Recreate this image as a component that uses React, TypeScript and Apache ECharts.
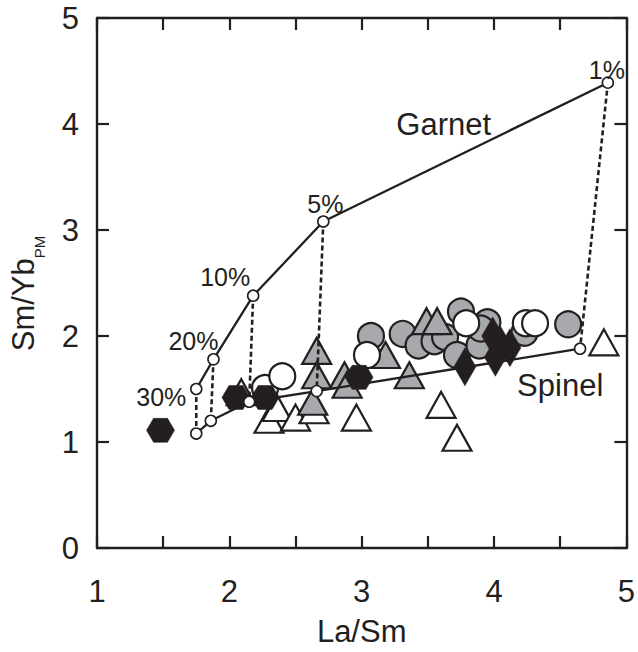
import React, { useEffect, useRef } from 'react';
import * as echarts from 'echarts';

// Melting curves (La/Sm vs Sm/Yb_PM), degrees of melting
const meltLabels = ['1%', '5%', '10%', '20%', '30%'];
const garnetX = [4.86, 2.71, 2.18, 1.88, 1.75];
const garnetY = [4.39, 3.08, 2.38, 1.78, 1.50];
const spinelX = [4.65, 2.66, 2.15, 1.86, 1.75];
const spinelY = [1.88, 1.48, 1.38, 1.20, 1.08];

// Curve names
const curveNames = ['Garnet', 'Spinel'];
const curveNameX = [3.62, 4.50];
const curveNameY = [4.00, 1.53];

// Sample groups
const openTriX = [2.09, 2.30, 2.36, 2.50, 2.64, 2.96, 3.60, 3.72, 4.83];
const openTriY = [1.47, 1.21, 1.32, 1.23, 1.30, 1.23, 1.35, 1.04, 1.94];

const grayCircX = [3.07, 3.31, 3.43, 3.55, 3.63, 3.75, 3.72, 3.89, 3.95, 4.23, 4.56, 3.90];
const grayCircY = [2.00, 2.02, 1.91, 1.95, 1.99, 2.23, 1.82, 1.91, 2.13, 2.03, 2.11, 2.07];

const grayTriX = [2.66, 2.66, 2.63, 2.87, 2.89, 3.18, 3.36, 3.49, 3.57];
const grayTriY = [1.86, 1.63, 1.38, 1.63, 1.54, 1.82, 1.63, 2.14, 2.14];

const openCircX = [2.27, 2.40, 3.04, 3.79, 4.24, 4.31];
const openCircY = [1.51, 1.62, 1.82, 2.12, 2.12, 2.12];

const hexX = [1.48, 2.05, 2.27, 2.98];
const hexY = [1.11, 1.42, 1.42, 1.61];

const diaX = [3.78, 3.99, 4.01, 4.05, 4.12];
const diaY = [1.71, 2.00, 1.80, 1.91, 1.89];

const INK = '#231f20';
const GRAY = '#a7a9ac';
const FONT = '"Liberation Sans", Arial, Helvetica, sans-serif';
const HEX = 'path://M0,0.866 L0.5,0 L1.5,0 L2,0.866 L1.5,1.732 L0.5,1.732 Z';

const zip = (xs: number[], ys: number[]) => xs.map((x, i) => [x, ys[i]]);

export default function App() {
  const ref = useRef<HTMLDivElement>(null);
  useEffect(() => {
    if (!ref.current) return;
    const chart = echarts.init(ref.current, null, { renderer: 'svg' });

    const pctOffsets = [[-1, -13], [2, -18], [-28, -19], [-20, -18], [-35, 8]];

    const scatter = (name: string, xs: number[], ys: number[], symbol: string, size: any, fill: string, z: number, bw = 2.2) => ({
      name,
      type: 'scatter',
      symbol,
      symbolSize: size,
      z,
      data: zip(xs, ys),
      itemStyle: { color: fill, borderColor: INK, borderWidth: bw, opacity: 1 },
    });

    const axisLine = { show: true, onZero: false, lineStyle: { color: INK, width: 2.4 } };
    const axisTick = { show: true, inside: true, length: 12, lineStyle: { color: INK, width: 2.2 } };

    const ties = garnetX.map((gx, i) => ({
      type: 'line',
      z: 3,
      symbol: 'none',
      silent: true,
      data: [[gx, garnetY[i]], [spinelX[i], spinelY[i]]],
      lineStyle: { color: INK, width: 2.6, type: [5, 3] },
    }));

    const curve = (xs: number[], ys: number[]) => ({
      type: 'line',
      z: 4,
      symbol: 'circle',
      symbolSize: 11,
      showAllSymbol: true,
      data: zip(xs, ys),
      lineStyle: { color: INK, width: 2.3 },
      itemStyle: { color: '#ffffff', borderColor: INK, borderWidth: 1.6 },
    });

    const textLabel = (text: string, size: number, offset?: number[]) => ({
      show: true, position: 'inside', offset: offset || [0, 0],
      formatter: text, color: INK, fontSize: size, fontFamily: FONT,
      textBorderWidth: 0, textBorderColor: 'transparent', opacity: 1,
    });

    const option: any = {
      animation: false,
      backgroundColor: '#ffffff',
      grid: { left: 95, right: 8, top: 18, bottom: 97, containLabel: false },
      xAxis: [
        {
          type: 'value', min: 1, max: 5, interval: 0.5, position: 'bottom',
          axisLine, axisTick, splitLine: { show: false },
          axisLabel: {
            color: INK, fontSize: 31, fontFamily: FONT, margin: 28,
            formatter: (v: number) => (Number.isInteger(v) ? String(v) : ''),
          },
          name: 'La/Sm', nameLocation: 'middle', nameGap: 68,
          nameTextStyle: { color: INK, fontSize: 31, fontFamily: FONT },
        },
        {
          type: 'value', min: 1, max: 5, interval: 0.5, position: 'top',
          axisLine, axisTick, splitLine: { show: false }, axisLabel: { show: false },
        },
      ],
      yAxis: [
        {
          type: 'value', min: 0, max: 5, interval: 1, position: 'left',
          axisLine, axisTick, splitLine: { show: false },
          axisLabel: { color: INK, fontSize: 31, fontFamily: FONT, margin: 18 },
          name: '{a|Sm/Yb}{b|PM}', nameLocation: 'middle', nameGap: 50,
          nameTextStyle: {
            color: INK, fontFamily: FONT, padding: [0, 21, 0, 0],
            rich: {
              a: { fontSize: 31, fontFamily: FONT, color: INK, padding: [0, 0, 8, 0] },
              b: { fontSize: 15, fontFamily: FONT, color: INK, verticalAlign: 'bottom' },
            },
          },
        },
        {
          type: 'value', min: 0, max: 5, interval: 1, position: 'right',
          axisLine, axisTick, splitLine: { show: false }, axisLabel: { show: false },
        },
      ],
      series: [
        scatter('open triangles', openTriX, openTriY, 'triangle', [29, 26], '#ffffff', 2),
        scatter('gray circles', grayCircX, grayCircY, 'circle', 26, GRAY, 2),
        scatter('gray triangles', grayTriX, grayTriY, 'triangle', [29, 26], GRAY, 2),
        scatter('open circles', openCircX, openCircY, 'circle', 26, '#ffffff', 2),
        scatter('hexagons', hexX, hexY, HEX, [28, 24], INK, 2, 0.5),
        scatter('diamonds', diaX, diaY, 'diamond', [22, 38], INK, 2, 0.5),
        ...ties,
        curve(garnetX, garnetY),
        curve(spinelX, spinelY),
        {
          type: 'scatter', z: 5, symbolSize: 1, silent: true,
          itemStyle: { color: 'rgba(0,0,0,0)' },
          data: garnetX.map((x, i) => ({
            value: [x, garnetY[i]],
            label: textLabel(meltLabels[i], 25, pctOffsets[i]),
          })),
        },
        {
          type: 'scatter', z: 5, symbolSize: 1, silent: true,
          itemStyle: { color: 'rgba(0,0,0,0)' },
          data: curveNameX.map((x, i) => ({
            value: [x, curveNameY[i]],
            label: textLabel(curveNames[i], 31),
          })),
        },
      ],
    };
    chart.setOption(option);
    return () => chart.dispose();
  }, []);
  return (
    <div
      ref={ref}
      style={{ position: 'absolute', left: 0, top: 0, width: 638, height: 652, background: '#fff' }}
    />
  );
}
